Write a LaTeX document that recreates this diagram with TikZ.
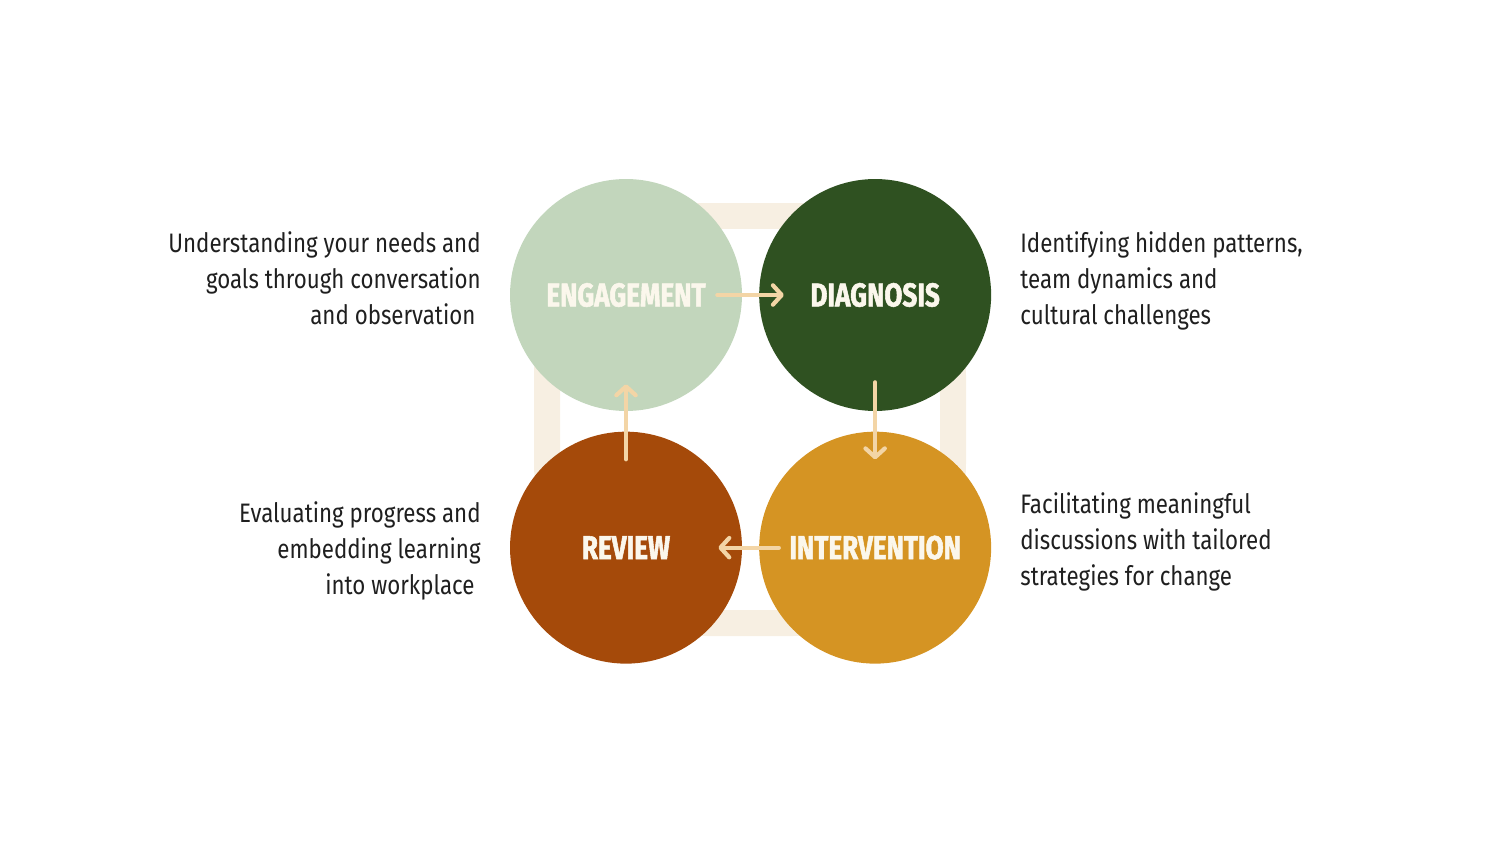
\documentclass[tikz,border=0pt]{standalone}
\usepackage{fontspec}
\setmainfont{Fira Sans}[FakeStretch=0.835]
\newfontfamily\stagefont{Fira Sans}[FakeStretch=0.79, FakeBold=1.6]
\usepackage{xcolor}
\usetikzlibrary{arrows.meta, positioning}

\definecolor{engcol}{HTML}{C2D6BC}
\definecolor{diacol}{HTML}{2F5121}
\definecolor{intcol}{HTML}{D59423}
\definecolor{revcol}{HTML}{A54A0A}
\definecolor{labcol}{HTML}{FBF7EC}
\definecolor{arrcol}{HTML}{F3D5A6}
\definecolor{ringcol}{HTML}{F7EFE2}

\begin{document}
\begin{tikzpicture}[
    x=0.02cm, y=-0.02cm,
    >=Stealth,
    stage/.style={circle, fill=#1, minimum size=4.64cm, inner sep=0pt, text=labcol, font=\stagefont\bfseries\fontsize{18.8}{20}\selectfont},
    desc/.style={font=\fontsize{15.2}{20.5}\selectfont, text=black!88, inner sep=0pt},
    arr/.style={-{Straight Barb[length=5pt, width=11pt, round]}, line width=2.4pt, arrcol, line cap=round},
    ring/.style={draw=ringcol, line width=0.52cm, rounded corners=3.2cm},
]
\useasboundingbox (0,0) rectangle (1500,844);

% ── Background loop ──
\draw[ring] (547,216) rectangle (953,623);

% ── Stages ──
\node[stage=engcol] (eng) at (626,295) {ENGAGEMENT};
\node[stage=diacol, right=0.33cm of eng] (diag) {DIAGNOSIS};
\node[stage=intcol, below=0.4cm of diag] (inter) {INTERVENTION};
\node[stage=revcol, below=0.4cm of eng] (rev) {REVIEW};

% ── Descriptions ──
\node[desc, anchor=east, align=right] (engtxt) at (481,278) {Understanding your needs and\\goals through conversation\\and observation\hspace*{3pt}};
\node[desc, anchor=west, align=left] (diagtxt) at (1020,281) {Identifying hidden patterns,\\team dynamics and\\cultural challenges};
\node[desc, anchor=west, align=left] (intertxt) at (1020,542) {Facilitating meaningful\\discussions with tailored\\strategies for change};
\node[desc, anchor=east, align=right] (revtxt) at (481,551) {Evaluating progress and\\embedding learning\hspace*{3.5pt}\\into workplace\hspace*{3.5pt}};

% ── Arrows ──
\draw[arr] ([xshift=-0.5cm]eng.east) -- ([xshift=0.5cm]diag.west);
\draw[arr] ([yshift=0.58cm]diag.south) -- ([yshift=-0.56cm]inter.north);
\draw[arr] ([xshift=0.4cm]inter.west) -- ([xshift=-0.48cm]rev.east);
\draw[arr] ([yshift=-0.56cm]rev.north) -- ([yshift=0.54cm]eng.south);

\end{tikzpicture}
\end{document}
